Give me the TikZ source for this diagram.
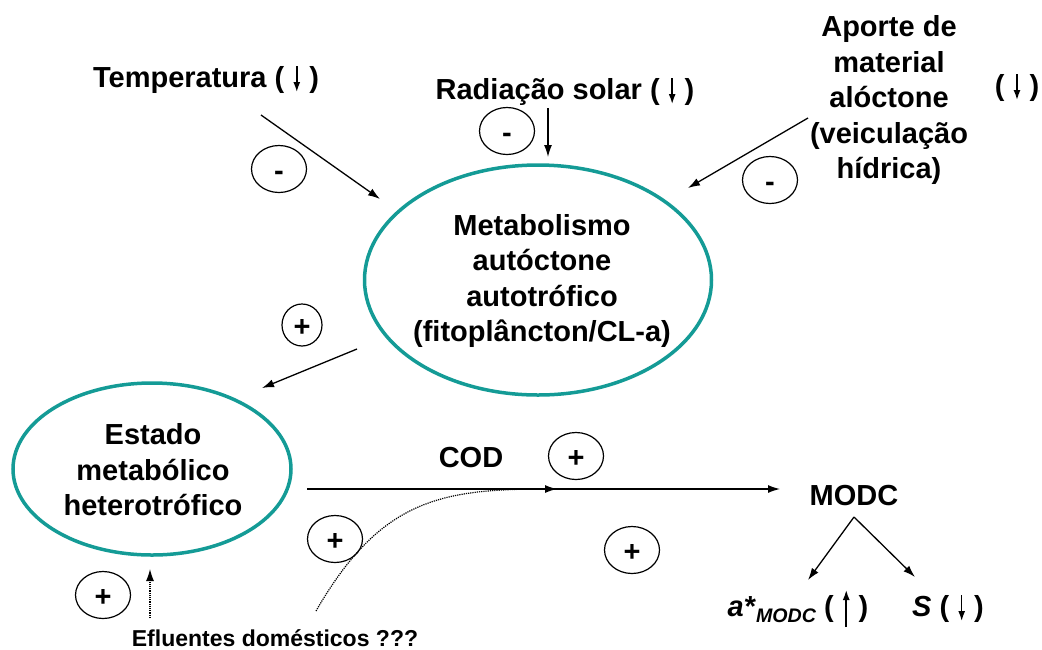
\documentclass[tikz,border=0pt]{standalone}
\usepackage{fontspec}
\setmainfont{Liberation Sans}
\usetikzlibrary{arrows.meta,shapes.geometric,positioning}
\definecolor{ecoteal}{RGB}{20,155,150}
\newcommand{\arrdown}{\hspace{9pt}\tikz[baseline=0pt, x=1pt, y=1pt]
  \draw[-{Latex[length=10pt,width=7pt]}, line width=1.5pt] (0,21) -- (0,-5);\hspace{9pt}}
\newcommand{\arrup}{\hspace{9pt}\tikz[baseline=0pt, x=1pt, y=1pt]
  \draw[-{Latex[length=10pt,width=7pt]}, line width=1.5pt] (0,-11) -- (0,26);\hspace{9pt}}

\begin{document}
\begin{tikzpicture}[x=1pt, y=-1pt, font=\fontsize{29}{35.5}\selectfont\bfseries,
    >={Latex[length=12pt,width=8pt]}]
    \tikzset{EllipseStyle/.style = {ellipse, draw=ecoteal, line width=3.5pt},
      SignStyle/.style = {ellipse, draw, line width=1.2pt, inner sep=0pt,
        minimum width=55pt, minimum height=47pt,
        text height=23pt, text depth=0pt},
      TextStyle/.style = {align=center, inner sep=0pt},
      EdgeStyle/.style = {->, line width=1.3pt},
      DotStyle/.style = {->, line width=1.2pt, densely dotted}}
    \useasboundingbox (0,0) rectangle (1042,649);
    % causes
    \node[TextStyle, anchor=base] (temp) at (206,87) {Temperatura (\arrdown)};
    \node[TextStyle, anchor=base] (rad) at (565,99) {Radiação solar (\arrdown)};
    \node[TextStyle] (aporte) at (889,100) {Aporte de\\material\\alóctone\\(veiculação\\hídrica)};
    \node[TextStyle, anchor=base] (aportedir) at (1017,95) {(\arrdown)};
    % metabolic states
    \node[EllipseStyle, minimum width=347pt, minimum height=230pt] (auto) at (538,280) {};
    \node[TextStyle] (autotext) at (542,281) {Metabolismo\\autóctone\\autotrófico\\(fitoplâncton/CL-a)};
    \node[EllipseStyle, minimum width=278pt, minimum height=172pt] (hetero) at (152,469) {};
    \node[TextStyle] (heterotext) at (153,470) {Estado\\metabólico\\heterotrófico};
    % signs
    \node[SignStyle] (signtemp) at (279,169) {-};
    \node[SignStyle] (signrad) at (507,131) {-};
    \node[SignStyle] (signaporte) at (770,180) {-};
    \node[SignStyle, minimum width=40pt, minimum height=42pt] (signauto) at (302,325) {+};
    \node[SignStyle] (signcod) at (576,456) {+};
    \node[SignStyle] (signeflu) at (335,539) {+};
    \node[SignStyle] (signmodc) at (632,550) {+};
    \node[SignStyle] (signhetero) at (103,595) {+};
    % products
    \node[TextStyle, anchor=base] (cod) at (471,467) {COD};
    \node[TextStyle, anchor=base] (modc) at (854,505) {MODC};
    \node[TextStyle, anchor=base] (astar) at (798,616)
      {\textit{a*}\raisebox{-6pt}{\fontsize{19.6}{20}\selectfont\itshape MODC} (\arrup)};
    \node[TextStyle, anchor=base] (slope) at (948,616) {\textit{S} (\arrdown)};
    \node[TextStyle, anchor=base, font=\fontsize{23}{26}\selectfont\bfseries] (eflu) at (275,646)
      {Efluentes domésticos ???};
    % connector ends
    \coordinate (tempA) at (261,115);
    \coordinate (tempB) at (380,199);
    \coordinate (radA) at (548,108);
    \coordinate (radB) at (548,157);
    \coordinate (aporteA) at (808,118);
    \coordinate (aporteB) at (688,188);
    \coordinate (autoA) at (357,349);
    \coordinate (autoB) at (262,388);
    \coordinate (codA) at (307,489);
    \coordinate (codB) at (780,489);
    \coordinate (efluA) at (316,611);
    \coordinate (efluB) at (557,489);
    \coordinate (efluC) at (150,618);
    \coordinate (efluD) at (150,569);
    \coordinate (split) at (854,517);
    \coordinate (astarB) at (808,580);
    \coordinate (slopeB) at (915,577);
    \draw[EdgeStyle] (tempA) -- (tempB);
    \draw[EdgeStyle] (radA) -- (radB);
    \draw[EdgeStyle] (aporteA) -- (aporteB);
    \draw[EdgeStyle] (autoA) -- (autoB);
    \draw[EdgeStyle] (codA) -- (codB);
    \draw[DotStyle] (efluA) .. controls (380,500) and (440,489) .. (efluB);
    \draw[DotStyle] (efluC) -- (efluD);
    \draw[EdgeStyle] (split) -- (astarB);
    \draw[EdgeStyle] (split) -- (slopeB);
\end{tikzpicture}
\end{document}
